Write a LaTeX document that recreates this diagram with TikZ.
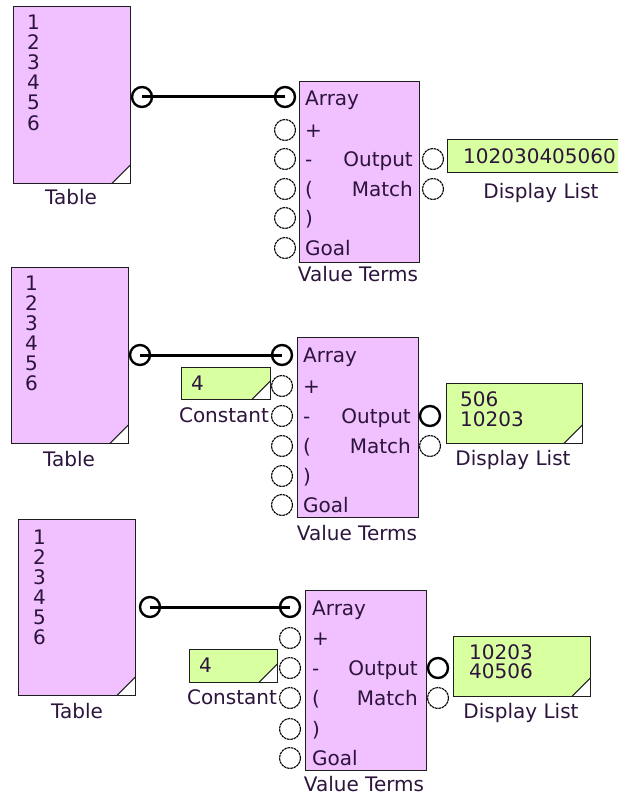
\documentclass[tikz,border=0pt]{standalone}
\usepackage{fontspec}
\setmainfont{DejaVu Sans}
\definecolor{pinkc}{RGB}{240,192,255}
\definecolor{greenc}{RGB}{216,255,160}
\definecolor{bordc}{RGB}{30,30,30}
\definecolor{txtc}{RGB}{45,20,60}
\tikzset{
  boxp/.style={draw=bordc, line width=1.3pt, fill=pinkc, inner sep=0pt, anchor=north west},
  boxg/.style={draw=bordc, line width=1.3pt, fill=greenc, inner sep=0pt, anchor=north west},
  dogear/.style={path picture={
      \fill[white] (path picture bounding box.south east) -- ++(-19pt,0pt) -- ++(19pt,19pt) -- cycle;
      \draw[bordc, line width=1pt] ([xshift=-19pt]path picture bounding box.south east) -- ++(19pt,19pt);}},
  port/.style={circle, draw=black, line width=1.1pt, dash pattern=on 2.6pt off 0.7pt, minimum size=21pt, inner sep=0pt},
  portc/.style={circle, draw=black, line width=2.4pt, minimum size=20pt, inner sep=0pt},
  txt/.style={text=txtc, font=\fontsize{20}{21}\selectfont, inner sep=0pt, text height=14pt, text depth=0pt},
  wire/.style={line width=3pt, black}
}
\begin{document}
\begin{tikzpicture}[x=1pt, y=-1pt]
\useasboundingbox (0,0) rectangle (618,797);
\clip (0,0) rectangle (618,797);
\fill[white] (0,0) rectangle (618,797);

% ---------- Panel 1 ----------
\node[boxp, dogear, minimum width=117pt, minimum height=177pt] (t1) at (13,6) {};
\foreach \i in {1,...,6} \node[txt, anchor=west] (t1n\i) at (27,{3+20*\i}) {\i};
\node[txt] (t1l) at (71,197) {Table};
\node[boxp, minimum width=120pt, minimum height=181pt] (v1) at (299,81) {};
\node[txt, anchor=west] (v1a) at (305,99) {Array};
\node[txt, anchor=west] (v1b) at (305,130) {+};
\node[txt, anchor=west] (v1c) at (305,159) {-};
\node[txt, anchor=west] (v1d) at (305,189) {(};
\node[txt, anchor=west] (v1e) at (305,218) {)};
\node[txt, anchor=west] (v1f) at (305,248) {Goal};
\node[txt, anchor=east] (v1o) at (413,159) {Output};
\node[txt, anchor=east] (v1m) at (413,189) {Match};
\node[txt] (v1l) at (358,274) {Value Terms};
\node[portc] (tp1) at (142,97) {};
\node[portc] (ap1) at (285,97) {};
\node[port] (i1b) at (285,130) {};
\node[port] (i1c) at (285,159) {};
\node[port] (i1d) at (285,189) {};
\node[port] (i1e) at (285,218) {};
\node[port] (i1f) at (285,248) {};
\node[port] (o1a) at (433,159) {};
\node[port] (o1b) at (433,189) {};
\draw[wire] (tp1.center) -- (ap1.center);
\node[boxg, dogear, minimum width=190pt, minimum height=33pt] (d1) at (447,139) {};
\node[txt, anchor=west] (d1t) at (463,156) {102030405060};
\node[txt] (d1l) at (541,191) {Display List};

% ---------- Panel 2 ----------
\node[boxp, dogear, minimum width=117pt, minimum height=176pt] (t2) at (11,267) {};
\foreach \i in {1,...,6} \node[txt, anchor=west] (t2n\i) at (25,{263+20*\i}) {\i};
\node[txt] (t2l) at (69,459) {Table};
\node[boxg, dogear, minimum width=89pt, minimum height=32pt] (c2) at (181,367) {};
\node[txt, anchor=west] (c2t) at (191,383) {4};
\node[txt] (c2l) at (224,415) {Constant};
\node[boxp, minimum width=121pt, minimum height=180pt] (v2) at (297,337) {};
\node[txt, anchor=west] (v2a) at (303,355) {Array};
\node[txt, anchor=west] (v2b) at (303,386) {+};
\node[txt, anchor=west] (v2c) at (303,416) {-};
\node[txt, anchor=west] (v2d) at (303,446) {(};
\node[txt, anchor=west] (v2e) at (303,476) {)};
\node[txt, anchor=west] (v2f) at (303,505) {Goal};
\node[txt, anchor=east] (v2o) at (411,416) {Output};
\node[txt, anchor=east] (v2m) at (411,446) {Match};
\node[txt] (v2l) at (357,533) {Value Terms};
\node[portc] (tp2) at (140,355) {};
\node[portc] (ap2) at (282,355) {};
\node[port] (i2b) at (282,386) {};
\node[port] (i2c) at (282,416) {};
\node[port] (i2d) at (282,446) {};
\node[port] (i2e) at (282,476) {};
\node[port] (i2f) at (282,505) {};
\node[portc] (o2a) at (430,416) {};
\node[port] (o2b) at (430,446) {};
\draw[wire] (tp2.center) -- (ap2.center);
\node[boxg, dogear, minimum width=136pt, minimum height=60pt] (d2) at (446,383) {};
\node[txt, anchor=west] (d2t1) at (460,399) {506};
\node[txt, anchor=west] (d2t2) at (460,419) {10203};
\node[txt] (d2l) at (513,458) {Display List};

% ---------- Panel 3 ----------
\node[boxp, dogear, minimum width=117pt, minimum height=176pt] (t3) at (18,519) {};
\foreach \i in {1,...,6} \node[txt, anchor=west] (t3n\i) at (33,{517+20*\i}) {\i};
\node[txt] (t3l) at (77,711) {Table};
\node[boxg, dogear, minimum width=88pt, minimum height=33pt] (c3) at (189,649) {};
\node[txt, anchor=west] (c3t) at (199,665) {4};
\node[txt] (c3l) at (232,697) {Constant};
\node[boxp, minimum width=121pt, minimum height=180pt] (v3) at (305,590) {};
\node[txt, anchor=west] (v3a) at (312,608) {Array};
\node[txt, anchor=west] (v3b) at (312,638) {+};
\node[txt, anchor=west] (v3c) at (312,668) {-};
\node[txt, anchor=west] (v3d) at (312,698) {(};
\node[txt, anchor=west] (v3e) at (312,729) {)};
\node[txt, anchor=west] (v3f) at (312,758) {Goal};
\node[txt, anchor=east] (v3o) at (418,668) {Output};
\node[txt, anchor=east] (v3m) at (418,698) {Match};
\node[txt] (v3l) at (364,784) {Value Terms};
\node[portc] (tp3) at (150,607) {};
\node[portc] (ap3) at (290,607) {};
\node[port] (i3b) at (290,638) {};
\node[port] (i3c) at (290,668) {};
\node[port] (i3d) at (290,698) {};
\node[port] (i3e) at (290,729) {};
\node[port] (i3f) at (290,758) {};
\node[portc] (o3a) at (438,668) {};
\node[port] (o3b) at (438,698) {};
\draw[wire] (tp3.center) -- (ap3.center);
\node[boxg, dogear, minimum width=137pt, minimum height=60pt] (d3) at (453,636) {};
\node[txt, anchor=west] (d3t1) at (469,652) {10203};
\node[txt, anchor=west] (d3t2) at (469,671) {40506};
\node[txt] (d3l) at (521,711) {Display List};
\end{tikzpicture}
\end{document}
